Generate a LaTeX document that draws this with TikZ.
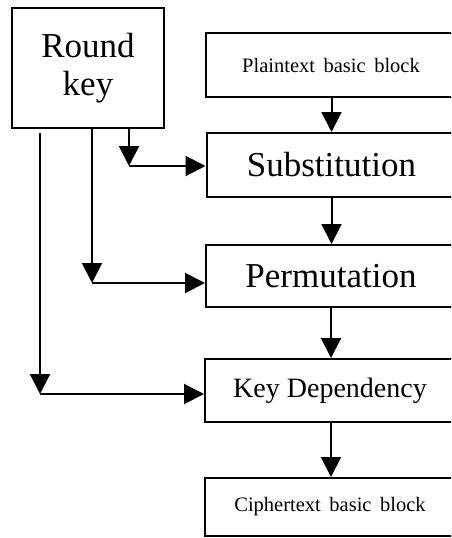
\documentclass[tikz,border=0pt]{standalone}
\usepackage{fontspec}
\setmainfont{Liberation Serif}
\usetikzlibrary{arrows.meta}
\begin{document}
\begin{tikzpicture}[x=1pt,y=-1pt,
  blockbox/.style={draw, line width=2pt, inner sep=0pt, minimum width=250pt, anchor=center},
  flow/.style={line width=2pt, -{Triangle[length=20pt,width=20pt]}}]
  \clip (0,0) rectangle (451,538);

  % key box
  \node[blockbox, minimum width=152pt, minimum height=120pt, align=center,
        font=\fontsize{35}{38}\selectfont] (rk) at (88,68) {Round\\key};

  % main chain of blocks
  \node[blockbox, minimum height=64pt, font=\fontsize{20.5}{24}\selectfont] (plain) at (331,65) {Plaintext\, basic\, block};
  \node[blockbox, minimum height=64pt, font=\fontsize{35}{40}\selectfont] (sub) at (331.5,165) {Substitution};
  \node[blockbox, minimum height=62pt, font=\fontsize{35}{40}\selectfont] (perm) at (331,276) {Permutation};
  \node[blockbox, minimum height=63pt, font=\fontsize{28}{32}\selectfont] (kdep) at (330,390.5) {Key Dependency};
  \node[blockbox, minimum height=58pt, font=\fontsize{20.5}{24}\selectfont] (ciph) at (330,507) {Ciphertext\, basic\, block};

  \draw[flow] (plain.south -| sub.north) -- (sub.north);
  \draw[flow] (sub.south) -- (perm.north -| sub.south);
  \draw[flow] (perm.south) -- (kdep.north -| perm.south);
  \draw[flow] (kdep.south -| perm.south) -- (ciph.north -| perm.south);

  % round key feeds
  \coordinate (k1top) at (129,129);
  \coordinate (k1) at (129,166);
  \coordinate (k2top) at (92,129);
  \coordinate (k2) at (92,283);
  \coordinate (k3top) at (40,133);
  \coordinate (k3) at (40,394);

  \draw[flow] (k1top) -- (k1);
  \draw[flow] (k1) -- (k1 -| sub.west);
  \draw[flow] (k2top) -- (k2);
  \draw[flow] (k2) -- (k2 -| perm.west);
  \draw[flow] (k3top) -- (k3);
  \draw[flow] (k3) -- (k3 -| kdep.west);
\end{tikzpicture}
\end{document}
